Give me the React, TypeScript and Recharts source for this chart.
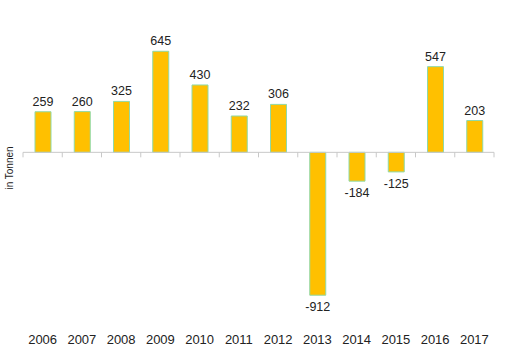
import { BarChart, Bar, XAxis, YAxis, ReferenceLine, LabelList } from 'recharts'

const years = ['2006', '2007', '2008', '2009', '2010', '2011', '2012', '2013', '2014', '2015', '2016', '2017']
const values = [259, 260, 325, 645, 430, 232, 306, -912, -184, -125, 547, 203]

const data = years.map((year, i) => ({ year, value: values[i] }))

const FONT = '"Liberation Sans", Arial, sans-serif'

// zero line with little tick marks at the category boundaries
function ZeroLine(props: any) {
  const { x1, y1, x2 } = props
  const step = (x2 - x1) / years.length
  const ticks = []
  for (let i = 0; i <= years.length; i++) {
    const x = x1 + step * i
    ticks.push(<line key={i} x1={x} y1={y1} x2={x} y2={y1 + 5} stroke="#c8c8c8" strokeWidth={1} />)
  }
  return (
    <g>
      <line x1={x1} y1={y1} x2={x2} y2={y1} stroke="#c8c8c8" strokeWidth={1} />
      {ticks}
    </g>
  )
}

function ValueLabel(props: any) {
  const { x, y, width, height, value } = props
  const top = Math.min(y, y + height)
  const bottom = Math.max(y, y + height)
  const ty = value >= 0 ? top - 6 : bottom + 16
  return (
    <text x={x + width / 2} y={ty} textAnchor="middle" fontSize={12.5} fill="#222" fontFamily={FONT}>
      {value}
    </text>
  )
}

export default function App() {
  return (
    <div style={{ position: 'absolute', left: 0, top: 0, background: '#fff' }}>
      <BarChart width={506} height={357} data={data} margin={{ top: 27, right: 12, bottom: 0, left: 0 }}>
        <XAxis
          dataKey="year"
          height={48}
          axisLine={false}
          tickLine={false}
          tickMargin={20}
          interval={0}
          tick={{ fontSize: 13, fill: '#222', fontFamily: FONT }}
        />
        <YAxis
          width={23}
          domain={[-1000, 800]}
          tick={false}
          axisLine={false}
          tickLine={false}
          label={{ value: 'in Tonnen', angle: -90, position: 'insideLeft', offset: 9, style: { fontSize: 10, fill: '#222', fontFamily: FONT, textAnchor: 'middle' } }}
        />
        <ReferenceLine y={0} shape={<ZeroLine />} />
        <Bar dataKey="value" fill="#ffc000" stroke="#8fd9a8" strokeWidth={1} barSize={16} isAnimationActive={false}>
          <LabelList dataKey="value" content={<ValueLabel />} />
        </Bar>
      </BarChart>
    </div>
  )
}
